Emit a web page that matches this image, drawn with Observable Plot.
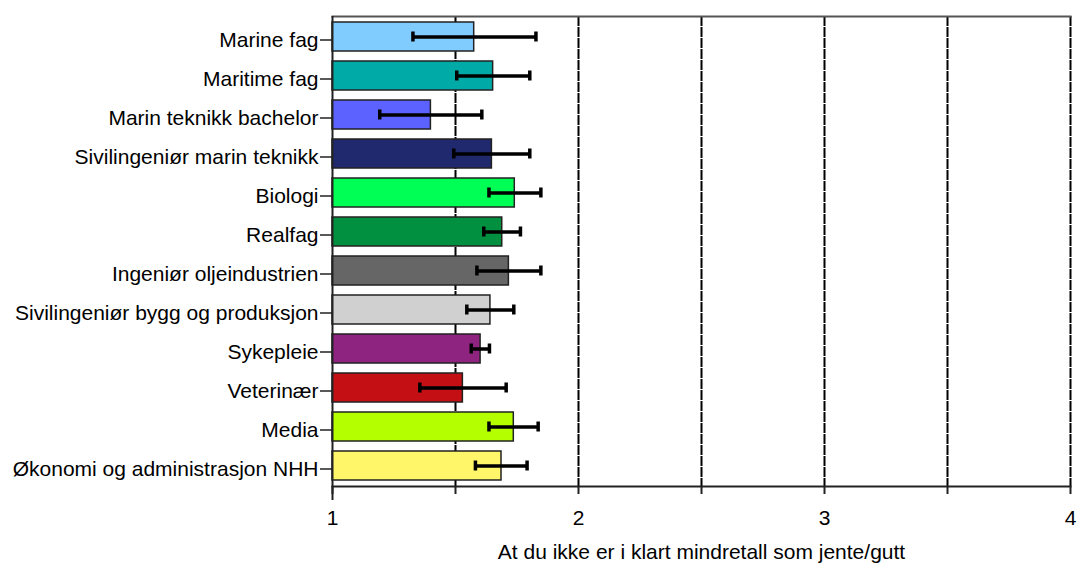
<!DOCTYPE html>
<html>
<head>
<meta charset="utf-8">
<script src="https://cdn.jsdelivr.net/npm/d3@7"></script>
<script src="https://cdn.jsdelivr.net/npm/@observablehq/plot@0.6"></script>
<style>
  html, body { margin: 0; padding: 0; background: #fff; }
  #chart { width: 1080px; height: 566px; }
  #chart svg { display: block; }
</style>
</head>
<body>
<div id="chart"></div>
<script>
const categories = [
  "Marine fag",
  "Maritime fag",
  "Marin teknikk bachelor",
  "Sivilingeniør marin teknikk",
  "Biologi",
  "Realfag",
  "Ingeniør oljeindustrien",
  "Sivilingeniør bygg og produksjon",
  "Sykepleie",
  "Veterinær",
  "Media",
  "Økonomi og administrasjon NHH"
];
const means = [1.576, 1.653, 1.400, 1.648, 1.741, 1.690, 1.717, 1.642, 1.602, 1.530, 1.737, 1.687];
const lows  = [1.327, 1.505, 1.192, 1.493, 1.636, 1.615, 1.587, 1.546, 1.564, 1.355, 1.636, 1.581];
const highs = [1.827, 1.802, 1.607, 1.802, 1.847, 1.764, 1.847, 1.737, 1.638, 1.706, 1.836, 1.791];
const colors = ["#80ccff", "#00aaa6", "#5c62ff", "#20286e", "#00ff55", "#00903f",
                "#666666", "#d0d0d0", "#8e2380", "#c41015", "#b4ff00", "#fff66a"];
const xTicks = [1, 1.5, 2, 2.5, 3, 3.5, 4];
const xTickLabels = ["1", "", "2", "", "3", "", "4"];
const gridTicks = [1.5, 2, 2.5, 3, 3.5, 4];
const xTitle = "At du ikke er i klart mindretall som jente/gutt";

const data = categories.map((c, i) => ({cat: c, mean: means[i], lo: lows[i], hi: highs[i]}));

const chart = Plot.plot({
  width: 1080,
  height: 566,
  marginLeft: 332,
  marginRight: 10,
  marginTop: 16,
  marginBottom: 80,
  style: {fontFamily: "'Liberation Sans', Arial, sans-serif", fontSize: "21px", color: "#000", background: "#fff"},
  x: {domain: [1, 4]},
  y: {domain: categories, paddingInner: 0.26, paddingOuter: 0.13},
  color: {domain: categories, range: colors},
  marks: [
    Plot.gridX(gridTicks, {stroke: "#000", strokeOpacity: 1, strokeWidth: 2, strokeDasharray: "10,1"}),
    Plot.frame({anchor: "top", stroke: "#555", strokeWidth: 2}),
    Plot.barX(data, {x1: 1, x2: "mean", y: "cat", fill: "cat", stroke: "#222", strokeWidth: 1.5}),
    Plot.ruleY(data, {x1: "lo", x2: "hi", y: "cat", stroke: "#000", strokeWidth: 3.5}),
    Plot.tickX(data, {x: "lo", y: "cat", stroke: "#000", strokeWidth: 3.5, insetTop: 9.5, insetBottom: 9.5}),
    Plot.tickX(data, {x: "hi", y: "cat", stroke: "#000", strokeWidth: 3.5, insetTop: 9.5, insetBottom: 9.5}),
    Plot.axisY({label: null, tickSize: 12, tickPadding: 2, fontSize: 21, dy: 3, stroke: "#222", strokeWidth: 1.5}),
    Plot.axisX(xTicks, {
      tickFormat: (d) => xTickLabels[xTicks.indexOf(d)],
      tickSize: 8, tickPadding: 16, fontSize: 21, stroke: "#222", strokeWidth: 2,
      label: null
    }),
    Plot.frame({anchor: "bottom", stroke: "#222", strokeWidth: 2}),
    Plot.ruleX([1], {stroke: "#222", strokeWidth: 2, insetBottom: -14}),
    Plot.text([xTitle], {frameAnchor: "bottom", dy: 72, fontSize: 21, fill: "#000"})
  ]
});
document.getElementById("chart").appendChild(chart);
</script>
</body>
</html>
